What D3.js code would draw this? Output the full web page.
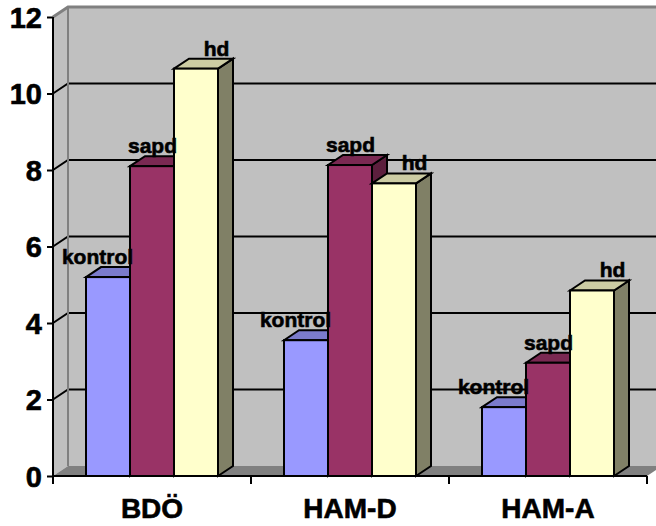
<!DOCTYPE html>
<html>
<head>
<meta charset="utf-8">
<script src="https://cdn.jsdelivr.net/npm/d3@7"></script>
<style>
  html, body { margin: 0; padding: 0; background: #fff; }
  svg { display: block; font-family: Arial, "Liberation Sans", sans-serif; font-weight: bold; }
  svg text { stroke: #000; stroke-width: 0.6px; }
</style>
</head>
<body>
<svg id="chart" width="656" height="526"></svg>
<script>
// Scores per scale and group
const categories = ["BDÖ", "HAM-D", "HAM-A"];
const series = ["kontrol", "sapd", "hd"];
const kontrol = [5.2, 3.55, 1.8];
const sapd = [8.1, 8.13, 2.96];
const hd = [10.65, 7.65, 4.85];
const yTicks = [0, 2, 4, 6, 8, 10, 12];

const values = { kontrol, sapd, hd };
const colors = {
  kontrol: { front: "#9999FF", top: "#7B7BCC", side: "#4D4D80" },
  sapd:    { front: "#993366", top: "#7A2952", side: "#5C1F3D" },
  hd:      { front: "#FFFFCC", top: "#CCCCA3", side: "#808066" }
};
// horizontal nudge of each series' label relative to its column
const labelShift = { kontrol: -18, sapd: -7, hd: 13 };

const svg = d3.select("#chart");

// plot box (front plane) and depth offset for the 3-D look
const plotLeft = 53, plotRight = 647, plotBottom = 476, plotTop = 17;
const dx = 15, dy = -10;

const y = d3.scaleLinear().domain([0, 12]).range([plotBottom, plotTop]);
const x = d3.scaleBand().domain(categories).range([plotLeft, plotRight]).paddingInner(0).paddingOuter(0);
const xs = d3.scaleBand().domain(series).range([x.bandwidth() / 6, x.bandwidth() * 5 / 6]).padding(0);

const poly = pts => pts.map(p => p.join(",")).join(" ");

// back wall
svg.append("polygon")
  .attr("points", poly([[plotLeft + dx, plotTop + dy], [plotRight + dx, plotTop + dy], [plotRight + dx, plotBottom + dy], [plotLeft + dx, plotBottom + dy]]))
  .attr("fill", "#C0C0C0");
// side wall
svg.append("polygon")
  .attr("points", poly([[plotLeft, plotTop], [plotLeft + dx, plotTop + dy], [plotLeft + dx, plotBottom + dy], [plotLeft, plotBottom]]))
  .attr("fill", "#C0C0C0");
// floor
svg.append("polygon")
  .attr("points", poly([[plotLeft, plotBottom], [plotLeft + dx, plotBottom + dy], [plotRight + dx, plotBottom + dy], [plotRight, plotBottom]]))
  .attr("fill", "#808080");

// gridlines on both walls
const grid = yTicks.filter(t => t > 0 && t < 12);
svg.append("g").selectAll("polyline").data(grid).join("polyline")
  .attr("points", t => poly([[plotLeft, y(t)], [plotLeft + dx, y(t) + dy], [plotRight + dx, y(t) + dy]]))
  .attr("fill", "none").attr("stroke", "#000").attr("stroke-width", 2);

// wall edges
svg.append("polyline")
  .attr("points", poly([[plotLeft, plotTop], [plotLeft + dx, plotTop + dy], [plotRight + dx, plotTop + dy]]))
  .attr("fill", "none").attr("stroke", "#808080").attr("stroke-width", 3);
svg.append("line")
  .attr("x1", plotLeft + dx).attr("x2", plotLeft + dx).attr("y1", plotTop + dy).attr("y2", plotBottom + dy)
  .attr("stroke", "#808080").attr("stroke-width", 2);

// 3-D columns, drawn left to right so each front face covers its neighbour's side
const bars = [];
categories.forEach((c, i) => series.forEach(s => bars.push({ c, s, v: values[s][i] })));
const gBars = svg.append("g").attr("stroke", "#000").attr("stroke-width", 2).attr("stroke-linejoin", "miter");
bars.forEach(d => {
  const x0 = x(d.c) + xs(d.s), w = xs.bandwidth(), yv = y(d.v), y0 = y(0);
  const g = gBars.append("g");
  g.append("polygon")
    .attr("points", poly([[x0 + w, yv], [x0 + w + dx, yv + dy], [x0 + w + dx, y0 + dy], [x0 + w, y0]]))
    .attr("fill", colors[d.s].side);
  g.append("polygon")
    .attr("points", poly([[x0, yv], [x0 + dx, yv + dy], [x0 + w + dx, yv + dy], [x0 + w, yv]]))
    .attr("fill", colors[d.s].top);
  g.append("rect")
    .attr("x", x0).attr("y", yv).attr("width", w).attr("height", y0 - yv)
    .attr("fill", colors[d.s].front);
});

// value-series labels above each column
svg.append("g").selectAll("text").data(bars).join("text")
  .attr("x", d => x(d.c) + xs(d.s) + xs.bandwidth() / 2 + dx / 2 + labelShift[d.s])
  .attr("y", d => y(d.v) + dy - 3)
  .attr("text-anchor", "middle")
  .attr("font-size", 21)
  .attr("fill", "#000")
  .text(d => d.s);

// value axis
const yAxis = svg.append("g").attr("transform", `translate(${plotLeft},0)`)
  .call(d3.axisLeft(y).tickValues(yTicks).tickSize(6).tickPadding(5).tickFormat(d3.format("d")));
yAxis.select(".domain").attr("stroke", "#000").attr("stroke-width", 2).attr("d", `M0,${plotTop}V${plotBottom}`);
yAxis.selectAll(".tick line").attr("stroke", "#000").attr("stroke-width", 2);
yAxis.selectAll(".tick text")
  .attr("font-size", 29).attr("font-weight", "bold").attr("font-family", "Arial, 'Liberation Sans', sans-serif")
  .attr("fill", "#000").attr("dy", "0.36em");

// category axis
const xAxis = svg.append("g").attr("transform", `translate(0,${plotBottom})`)
  .call(d3.axisBottom(x).tickSize(0).tickPadding(24));
xAxis.select(".domain").attr("stroke", "#000").attr("stroke-width", 2).attr("d", `M${plotLeft},0H${plotRight}`);
xAxis.selectAll(".tick text")
  .attr("font-size", 28).attr("font-weight", "bold").attr("font-family", "Arial, 'Liberation Sans', sans-serif")
  .attr("fill", "#000").attr("dy", "0.71em").attr("y", 22);
// category dividers
xAxis.append("g").selectAll("line").data(categories.concat([null])).join("line")
  .attr("x1", (d, i) => plotLeft + i * x.bandwidth()).attr("x2", (d, i) => plotLeft + i * x.bandwidth())
  .attr("y1", 0).attr("y2", 8)
  .attr("stroke", "#000").attr("stroke-width", 2);
</script>
</body>
</html>
